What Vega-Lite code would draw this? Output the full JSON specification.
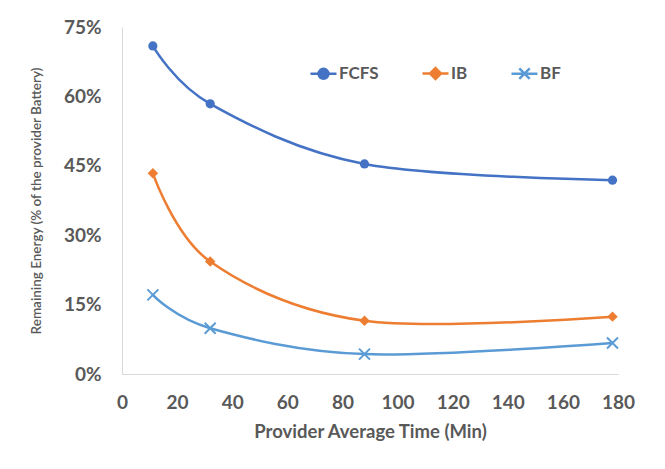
{
  "$schema": "https://vega.github.io/schema/vega-lite/v6.json",
  "width": 496,
  "height": 347,
  "autosize": {"type": "none"},
  "padding": {"left": 122, "top": 27, "right": 47, "bottom": 95},
  "background": "white",
  "config": {
    "view": {"stroke": null},
    "font": "Lato",
    "axis": {
      "grid": false,
      "ticks": false,
      "domainColor": "#D9D9D9",
      "domainWidth": 1,
      "labelColor": "#595959",
      "titleColor": "#595959",
      "labelFont": "Lato",
      "titleFont": "Lato",
      "labelFlush": false
    }
  },
  "data": {
    "values": [
      {"series": "FCFS", "time": 11.2, "energy": 0.709},
      {"series": "FCFS", "time": 32, "energy": 0.584},
      {"series": "FCFS", "time": 88, "energy": 0.454},
      {"series": "FCFS", "time": 178, "energy": 0.419},
      {"series": "IB", "time": 11.2, "energy": 0.434},
      {"series": "IB", "time": 32, "energy": 0.243},
      {"series": "IB", "time": 88, "energy": 0.115},
      {"series": "IB", "time": 178, "energy": 0.124},
      {"series": "BF", "time": 11.2, "energy": 0.171},
      {"series": "BF", "time": 32, "energy": 0.099},
      {"series": "BF", "time": 88, "energy": 0.043},
      {"series": "BF", "time": 178, "energy": 0.067}
    ]
  },
  "encoding": {
    "x": {
      "field": "time",
      "type": "quantitative",
      "scale": {"domain": [0, 180], "nice": false},
      "axis": {
        "values": [0, 20, 40, 60, 80, 100, 120, 140, 160, 180],
        "title": "Provider Average Time (Min)",
        "labelFontSize": 19,
        "labelFontWeight": "bold",
        "labelPadding": 19,
        "titleFontSize": 18.5,
        "titleFontWeight": "bold",
        "titlePadding": 10
      }
    },
    "y": {
      "field": "energy",
      "type": "quantitative",
      "scale": {"domain": [0, 0.75], "nice": false},
      "axis": {
        "values": [0, 0.15, 0.3, 0.45, 0.6, 0.75],
        "format": ".0%",
        "title": "Remaining Energy  (% of the provider Battery)",
        "labelFontSize": 19,
        "labelFontWeight": "bold",
        "labelPadding": 21,
        "titleFontSize": 13.5,
        "titleFontWeight": 600,
        "titlePadding": 20
      }
    }
  },
  "layer": [
    {
      "mark": {"type": "line", "interpolate": "cardinal", "strokeWidth": 2.5},
      "encoding": {
        "color": {
          "field": "series",
          "type": "nominal",
          "sort": ["FCFS", "IB", "BF"],
          "scale": {"domain": ["FCFS", "IB", "BF"], "range": ["#4472C4", "#ED7D31", "#5B9BD5"]},
          "legend": {
            "title": null,
            "orient": "none",
            "direction": "horizontal",
            "legendX": 187,
            "legendY": 32,
            "labelFontSize": 17,
            "labelFontWeight": "bold",
            "labelColor": "#595959",
            "labelFont": "Lato",
            "labelOffset": 1,
            "columnPadding": 38,
            "symbolSize": 676,
            "encode": {
              "symbols": {
                "update": {
                  "shape": {"signal": "datum.value == 'FCFS' ? 'M-1,0L1,0M0.38,0A0.38,0.38 0 1,1 -0.38,0A0.38,0.38 0 1,1 0.38,0' : datum.value == 'IB' ? 'M-1,0L1,0M0,-0.42L0.42,0L0,0.42L-0.42,0Z' : 'M-1,0L1,0M-0.4,-0.4L0.4,0.4M-0.4,0.4L0.4,-0.4'"},
                  "fill": {"signal": "datum.value == 'FCFS' ? '#4472C4' : datum.value == 'IB' ? '#ED7D31' : 'transparent'"},
                  "stroke": {"signal": "datum.value == 'FCFS' ? '#4472C4' : datum.value == 'IB' ? '#ED7D31' : '#5B9BD5'"},
                  "strokeWidth": {"value": 2.5},
                  "size": {"value": 676},
                  "opacity": {"value": 1}
                }
              }
            }
          }
        }
      }
    },
    {
      "transform": [{"filter": "datum.series == 'FCFS'"}],
      "mark": {"type": "point", "shape": "circle", "filled": true, "size": 85, "color": "#4472C4", "opacity": 1}
    },
    {
      "transform": [{"filter": "datum.series == 'IB'"}],
      "mark": {"type": "point", "shape": "diamond", "filled": true, "size": 110, "color": "#ED7D31", "opacity": 1}
    },
    {
      "transform": [{"filter": "datum.series == 'BF'"}],
      "mark": {"type": "point", "shape": "M-1,-1L1,1M-1,1L1,-1", "filled": false, "size": 120, "color": "#5B9BD5", "strokeWidth": 2, "opacity": 1}
    }
  ]
}
